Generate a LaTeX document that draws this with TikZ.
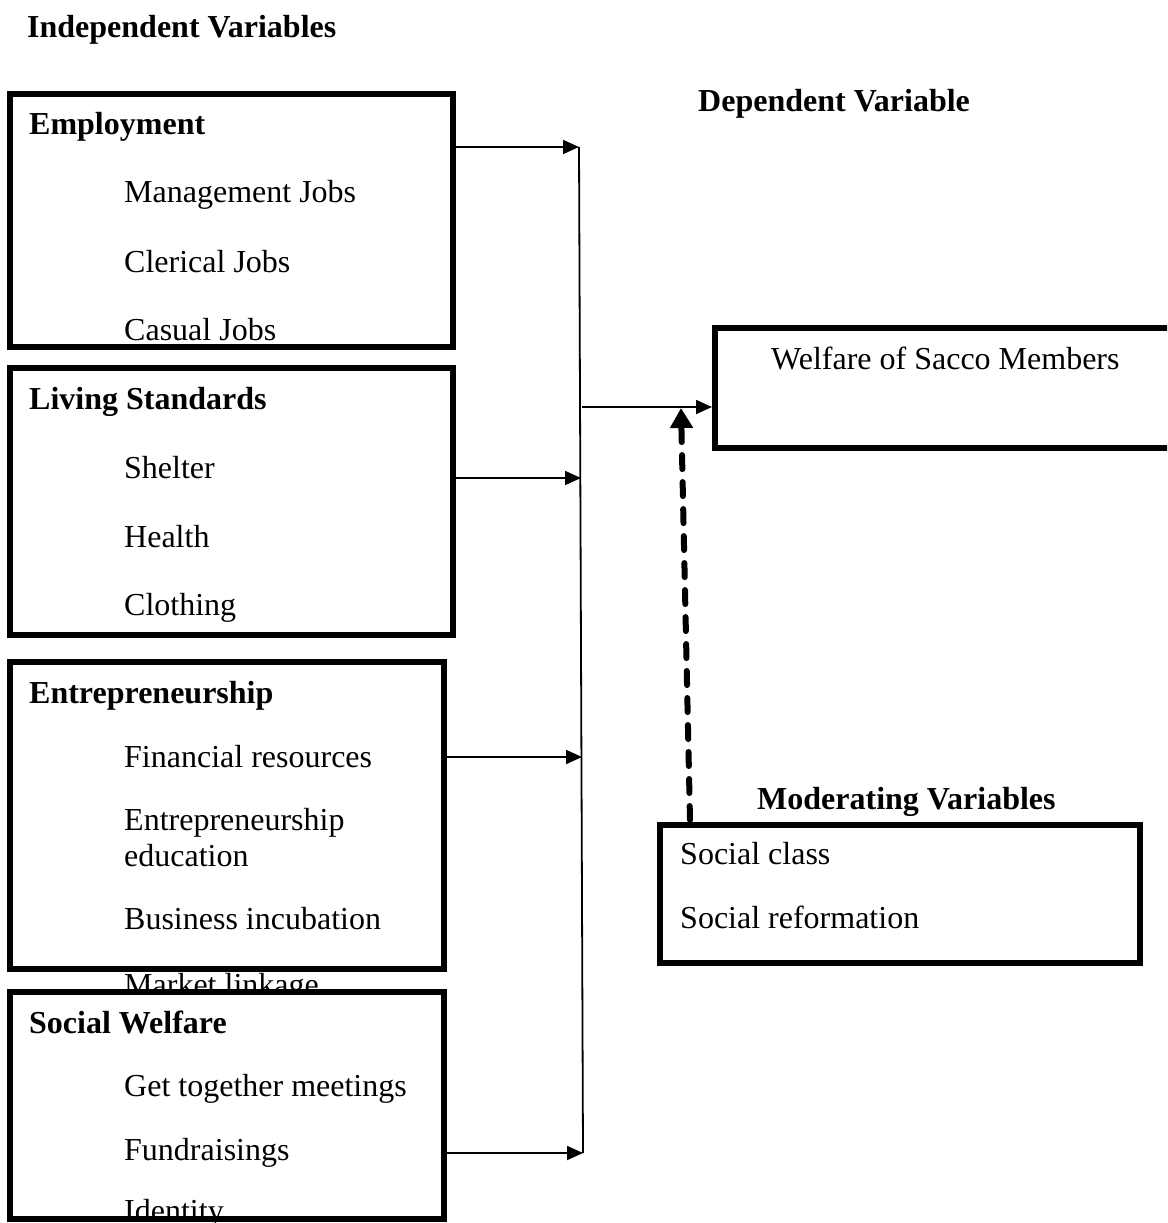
\documentclass[tikz,border=0pt]{standalone}
\usepackage{fontspec}
\setmainfont{Liberation Serif}
\usetikzlibrary{arrows.meta}
\tikzset{
  vbox/.style={draw, line width=6pt, fill=white, inner sep=0pt, anchor=north west},
  txt/.style={anchor=base west, inner sep=0pt},
  hd/.style={anchor=base west, inner sep=0pt, font=\fontsize{32}{38}\selectfont\bfseries},
  arr/.style={line width=1.8pt, -{Triangle[length=16pt,width=14pt]}},
  modarr/.style={line width=6pt, line cap=round, dash pattern=on 14pt off 13pt, -{Triangle[length=20pt,width=22pt]}}
}
\begin{document}
\begin{tikzpicture}[x=1pt,y=-1pt, every node/.append style={font=\fontsize{32}{38}\selectfont}]
\clip (0,0) rectangle (1167,1223);
\fill[white] (0,0) rectangle (1167,1223);

% headings
\node[hd] (hind) at (27,38) {Independent Variables};
\node[hd] (hdep) at (698,111) {Dependent Variable};

% Employment
\node[vbox, minimum width=443pt, minimum height=253pt] (emp) at (7,91) {};
\node[hd] (empt) at (29,134) {Employment};
\node[txt] (e1) at (124,202) {Management Jobs};
\node[txt] (e2) at (124,272) {Clerical Jobs};
\node[txt] (e3) at (124,340) {Casual Jobs};

% Living Standards
\node[vbox, minimum width=443pt, minimum height=267pt] (liv) at (7,365) {};
\node[hd] (livt) at (29,409) {Living Standards};
\node[txt] (l1) at (124,478) {Shelter};
\node[txt] (l2) at (124,547) {Health};
\node[txt] (l3) at (124,615) {Clothing};

% Entrepreneurship
\node[vbox, minimum width=434pt, minimum height=307pt] (ent) at (7,659) {};
\node[hd] (entt) at (29,703) {Entrepreneurship};
\node[txt] (n1) at (124,767) {Financial resources};
\node[txt] (n2) at (124,830) {Entrepreneurship};
\node[txt] (n2b) at (124,866) {education};
\node[txt] (n3) at (124,929) {Business incubation};
\node[txt] (n4) at (124,995) {Market linkage};

% Social Welfare
\node[vbox, minimum width=434pt, minimum height=227pt] (soc) at (7,989) {};
\node[hd] (soct) at (29,1033) {Social Welfare};
\node[txt] (s1) at (124,1096) {Get together meetings};
\node[txt] (s2) at (124,1160) {Fundraisings};
\node[txt] (s3) at (124,1221) {Identity};
% redraw bottom edge over clipped text
\draw[line width=6pt] (7,1219) -- (447,1219);

% Welfare box (runs off right edge)
\node[vbox, minimum width=480pt, minimum height=120pt] (wel) at (712,325) {};
\node[txt] (welt) at (771,369) {Welfare of Sacco Members};

% Moderating
\node[hd] (hmod) at (757,809) {Moderating Variables};
\node[vbox, minimum width=480pt, minimum height=138pt] (mod) at (657,822) {};
\node[txt] (m1) at (680,864) {Social class};
\node[txt] (m2) at (680,928) {Social reformation};

% bus
\coordinate (bt) at (579,147);
\coordinate (bb) at (583,1153);
\coordinate (b1) at (579,147);
\coordinate (b2) at (581,478);
\coordinate (b3) at (582,757);
\coordinate (b4) at (583,1153);
\coordinate (bo) at (582,407);
\draw[line width=1.8pt] (bt) -- (bb);
\draw[arr] (emp.east |- b1) -- (b1);
\draw[arr] (liv.east |- b2) -- (b2);
\draw[arr] (ent.east |- b3) -- (b3);
\draw[arr] (soc.east |- b4) -- (b4);
\draw[arr] (bo) -- (wel.west |- bo);

% moderating dashed arrow
\coordinate (mt) at (681,408);
\draw[modarr] (690,820) -- (mt);
\end{tikzpicture}
\end{document}
